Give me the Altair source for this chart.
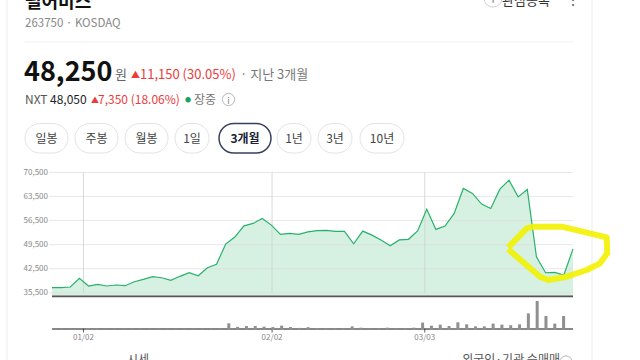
import altair as alt
import pandas as pd

FONT = "Noto Sans CJK KR"

# ---------------- data ----------------
price = [36950, 36950, 37160, 39690, 37450, 37940, 37450, 37740, 37540, 38700,
         39390, 40150, 39860, 39100, 40270, 41310, 40440, 42770, 43760, 49660,
         51700, 54950, 55670, 57100, 55180, 52500, 52770, 52470, 53200, 53600,
         53640, 53350, 53350, 49740, 53440, 52270, 50820, 49160, 50870, 51050,
         53500, 59830, 53930, 54890, 58580, 65850, 64400, 61290, 60040, 65650,
         68260, 63410, 65560, 45970, 41310, 41430, 40650, 48250]
volume = [30, 30, 30, 130, 100, 30, 60, 50, 60, 60,
          50, 60, 40, 60, 40, 60, 60, 60, 60, 600,
          250, 330, 330, 270, 230, 370, 230, 150, 220, 130,
          100, 100, 100, 300, 170, 70, 70, 170, 70, 70,
          170, 670, 370, 470, 330, 700, 500, 300, 300, 570,
          470, 400, 500, 1580, 2800, 1320, 570, 1320]
y_ticks = [35500, 42500, 49500, 56500, 63500, 70500]
x_tick_idx = [3, 24, 41]
x_tick_labels = ["01/02", "02/02", "03/03"]
# hand-drawn yellow highlight, in (index, price) space
hl_idx = [49.92, 51.93, 52.66, 55.76, 60.68, 60.75, 59.95, 58.5, 56.31, 54.3, 53.39, 49.92]
hl_val = [48720, 54250, 54720, 54720, 51630, 46970, 44060, 42110, 40160, 39200, 40160, 48140]
buttons = ["일봉", "주봉", "월봉", "1일", "3개월", "1년", "3년", "10년"]
selected = "3개월"

# ---------------- layout ----------------
btn_x0 = [25, 75, 125, 175, 219, 277, 318, 360]
btn_x1 = [68, 118, 168, 209, 271, 311, 352, 404]
AREA_BASE = 34540  # price level of the panel's bottom edge
VOL_BASE = -60     # volume level just under the baseline

df = pd.DataFrame({"i": list(range(len(price))), "price": price, "vol": volume})
df["base"] = AREA_BASE
df["vbase"] = VOL_BASE
ticks_df = pd.DataFrame({"v": y_ticks, "lab": [f"{t:,}" for t in y_ticks]})
xt_df = pd.DataFrame({"i": x_tick_idx, "lab": x_tick_labels})
xt_df["top"] = max(y_ticks)
xt_df["bot"] = min(y_ticks)
hl_df = pd.DataFrame({"o": list(range(len(hl_idx))), "i": hl_idx, "v": hl_val})
btn_df = pd.DataFrame({"lab": buttons, "x0": btn_x0, "x1": btn_x1})
btn_df["xc"] = (btn_df["x0"] + btn_df["x1"]) / 2
btn_df["sel"] = btn_df["lab"] == selected

px = alt.Scale(domain=[0, 57], range=[52, 573])
bx = alt.Scale(domain=[-0.5, 57.5], range=[52, 573])
py = alt.Scale(domain=[35500, 70500], range=[292.7, 172.5])
vy = alt.Scale(domain=[0, 2800], range=[329.4, 301])

one = alt.Data(values=[{"a": 1}])


def T(text, x, y, size=12, color="#333333", weight="normal", align="left", baseline="alphabetic"):
    return alt.Chart(one).mark_text(
        text=text, fontSize=size, color=color, fontWeight=weight,
        align=align, baseline=baseline, font=FONT
    ).encode(x=alt.value(x), y=alt.value(y))


def R(x, x2, y, y2, color, w=1):
    return alt.Chart(one).mark_rule(color=color, strokeWidth=w).encode(
        x=alt.value(x), x2=alt.value(x2), y=alt.value(y), y2=alt.value(y2))


layers = []

# card borders / separators
layers += [R(7, 7, 0, 360, "#ececec"), R(592, 592, 0, 360, "#ececec"), R(25, 573, 42, 42, "#efefef")]

# header texts
layers += [
    T("펄어비스", 25, 8, size=18, color="#111111", weight="bold"),
    T("263750 · KOSDAQ", 25, 27, size=11.5, color="#888888"),
    T("48,250", 24, 81, size=27, color="#111111", weight="bold"),
    T("원", 115, 79, size=13, color="#666666"),
    T("▲", 131, 78, size=9, color="#eb3c3c"),
    T("11,150 (30.05%)", 140, 79, size=13, color="#eb3c3c"),
    T("· 지난 3개월", 240, 79, size=13, color="#777777"),
    T("NXT", 25, 104, size=12, color="#555555"),
    T("48,050", 50, 104, size=12, color="#222222"),
    T("▲", 91, 103, size=8, color="#eb3c3c"),
    T("7,350 (18.06%)", 98, 104, size=12, color="#eb3c3c"),
    T("●", 188, 102, size=6, color="#1aa260", align="center"),
    T("장중", 194, 104, size=12, color="#777777"),
    T("i", 228.5, 104, size=9, color="#888888", align="center"),
    T("관심종목", 502, 5, size=13, color="#333333"),
    T("⋮", 573, 5, size=14, color="#555555", align="center"),
    T("+", 493, 4, size=12, color="#666666", align="center"),
    T("시세", 138, 355, size=12, color="#555555", align="center", baseline="top"),
    T("외국인·기관 순매매", 560, 355, size=12, color="#555555", align="right", baseline="top"),
]
layers.append(alt.Chart(one).mark_point(shape="circle", size=150, filled=False, color="#999999", strokeWidth=1)
              .encode(x=alt.value(228.5), y=alt.value(99.5)))
layers.append(alt.Chart(one).mark_point(shape="circle", size=330, filled=False, color="#bbbbbb", strokeWidth=1)
              .encode(x=alt.value(493), y=alt.value(-2)))
layers.append(alt.Chart(one).mark_point(shape="circle", size=150, filled=False, color="#999999", strokeWidth=1)
              .encode(x=alt.value(566), y=alt.value(362)))

# buttons
btn_rect = alt.Chart(btn_df).mark_rect(cornerRadius=15, fill="white").encode(
    x=alt.X("x0:Q", scale=None), x2="x1:Q", y=alt.value(123.5), y2=alt.value(153),
    stroke=alt.condition("datum.sel", alt.value("#34405f"), alt.value("#e3e3e3")),
    strokeWidth=alt.condition("datum.sel", alt.value(1.5), alt.value(1)),
)
btn_txt = alt.Chart(btn_df).transform_filter("!datum.sel").mark_text(
    fontSize=12, font=FONT, baseline="middle", align="center", color="#444444").encode(
    x=alt.X("xc:Q", scale=None), y=alt.value(138.5), text="lab:N")
btn_txt_sel = alt.Chart(btn_df).transform_filter("datum.sel").mark_text(
    fontSize=12, font=FONT, baseline="middle", align="center", color="#1c2235", fontWeight="bold").encode(
    x=alt.X("xc:Q", scale=None), y=alt.value(138.5), text="lab:N")
layers += [btn_rect, btn_txt, btn_txt_sel]

# price area, then gridlines on top of it, then the line
area = alt.Chart(df).mark_area(color="#d6f0e2", opacity=1).encode(
    x=alt.X("i:Q", scale=px, axis=None), y=alt.Y("price:Q", scale=py, axis=None), y2="base:Q")
grid_h = alt.Chart(ticks_df).mark_rule(color="#dedede", strokeWidth=1, opacity=0.7).encode(
    y=alt.Y("v:Q", scale=py, axis=None), x=alt.value(49), x2=alt.value(573))
ylab = alt.Chart(ticks_df).mark_text(fontSize=8, font=FONT, color="#888888", align="right", baseline="middle").encode(
    y=alt.Y("v:Q", scale=py, axis=None), x=alt.value(48), text="lab:N")
grid_v = alt.Chart(xt_df).mark_rule(color="#cfcfcf", strokeWidth=1, opacity=0.8).encode(
    x=alt.X("i:Q", scale=bx, axis=None),
    y=alt.Y("top:Q", scale=py, axis=None), y2="bot:Q")
line = alt.Chart(df).mark_line(color="#27b26b", strokeWidth=1.2).encode(
    x=alt.X("i:Q", scale=px, axis=None), y=alt.Y("price:Q", scale=py, axis=None))
layers += [area, grid_h, ylab, grid_v, line, R(52, 573, 296.5, 296.5, "#555555", 2)]

# x ticks and labels
xticks = alt.Chart(xt_df).mark_tick(orient="vertical", size=4, thickness=1, color="#111111").encode(
    x=alt.X("i:Q", scale=bx, axis=None), y=alt.value(330.5))
xlab = alt.Chart(xt_df).mark_text(fontSize=8, font=FONT, color="#888888", align="center", baseline="middle").encode(
    x=alt.X("i:Q", scale=bx, axis=None), y=alt.value(338), text="lab:N")
layers += [xticks, xlab]

# clean white volume panel
layers.append(alt.Chart(one).mark_rect(fill="white").encode(
    x=alt.value(50), x2=alt.value(576), y=alt.value(297.6), y2=alt.value(328.5)))

# volume
layers.append(R(52, 573, 329, 329, "#111111", 1))
bars = alt.Chart(df).mark_bar(size=3, color="#8f8f8f").encode(
    x=alt.X("i:Q", scale=bx, axis=None), y=alt.Y("vol:Q", scale=vy, axis=None), y2="vbase:Q")
layers.append(bars)

# yellow highlight
hl = alt.Chart(hl_df).mark_line(color="#f2f200", strokeWidth=6, opacity=0.9, strokeJoin="round").encode(
    x=alt.X("i:Q", scale=px, axis=None), y=alt.Y("v:Q", scale=py, axis=None), order="o:Q")
layers.append(hl)

chart = alt.layer(*layers).resolve_scale(x="independent", y="independent").properties(
    width=640, height=360, padding=0, autosize=alt.AutoSizeParams(type="none"), background="white"
).configure_view(stroke=None)

chart.save("out.html", embed_options={"renderer": "svg", "actions": False})
